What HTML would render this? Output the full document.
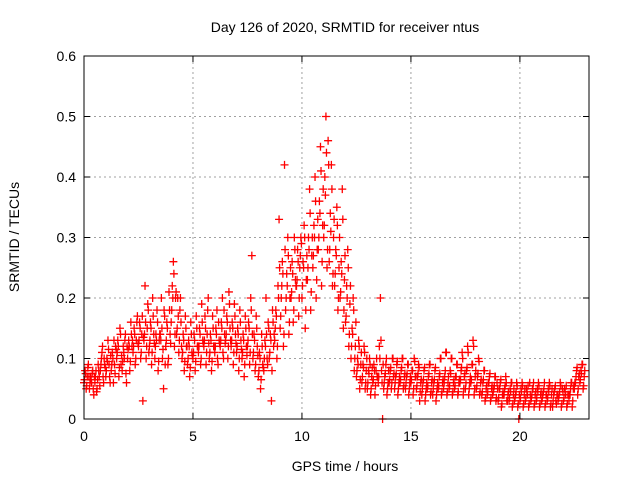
<!DOCTYPE html>
<html><head><meta charset="utf-8"><style>
body{margin:0;background:#fff;}
svg{display:block;font-family:"Liberation Sans",sans-serif;}
</style></head><body>
<svg id="chart" width="640" height="480">
<text x="345" y="32" text-anchor="middle" font-size="14">Day 126 of 2020, SRMTID for receiver ntus</text>
<text x="345" y="471" text-anchor="middle" font-size="14">GPS time / hours</text>
<text transform="translate(19,237) rotate(-90)" text-anchor="middle" font-size="14">SRMTID / TECUs</text>
<g id="grid"></g><g id="pts"></g><g id="axes"></g>
</svg>
<script>
const xTicks=[0,5,10,15,20];
const yTicks=[0,0.1,0.2,0.3,0.4,0.5,0.6];
const yTickLabels=["0","0.1","0.2","0.3","0.4","0.5","0.6"];
const binStarts=[0,0.25,0.5,0.75,1,1.25,1.5,1.75,2,2.25,2.5,2.75,3,3.25,3.5,3.75,4,4.25,4.5,4.75,5,5.25,5.5,5.75,6,6.25,6.5,6.75,7,7.25,7.5,7.75,8,8.25,8.5,8.75,9,9.25,9.5,9.75,10,10.25,10.5,10.75,11,11.25,11.5,11.75,12,12.25,12.5,12.75,13,13.25,13.5,13.75,14,14.25,14.5,14.75,15,15.25,15.5,15.75,16,16.25,16.5,16.75,17,17.25,17.5,17.75,18,18.25,18.5,18.75,19,19.25,19.5,19.75,20,20.25,20.5,20.75,21,21.25,21.5,21.75,22,22.25,22.5,22.75];
const binValues=[
[0.06,0.08,0.05,0.07,0.09],[0.05,0.07,0.06,0.08,0.04],[0.06,0.08,0.05,0.09,0.07],[0.08,0.1,0.12,0.06,0.09],
[0.07,0.1,0.13,0.09,0.06],[0.08,0.11,0.06,0.09,0.12],[0.1,0.13,0.07,0.15,0.09],[0.08,0.12,0.1,0.14,0.06],
[0.1,0.13,0.08,0.16,0.12],[0.11,0.15,0.09,0.13,0.17],[0.12,0.16,0.1,0.14,0.03],[0.13,0.22,0.1,0.15,0.18],
[0.12,0.16,0.09,0.2,0.14],[0.1,0.14,0.18,0.08,0.13],[0.14,0.2,0.1,0.05,0.17],[0.12,0.16,0.09,0.21,0.14],
[0.16,0.22,0.26,0.12,0.2],[0.14,0.2,0.11,0.18,0.16],[0.1,0.14,0.08,0.17,0.12],[0.09,0.13,0.07,0.16,0.11],
[0.1,0.14,0.08,0.17,0.12],[0.11,0.15,0.09,0.19,0.13],[0.12,0.17,0.09,0.14,0.2],[0.1,0.14,0.08,0.17,0.12],
[0.11,0.15,0.18,0.09,0.13],[0.12,0.16,0.2,0.1,0.14],[0.13,0.17,0.1,0.21,0.15],[0.12,0.16,0.09,0.19,0.14],
[0.11,0.15,0.08,0.18,0.13],[0.1,0.14,0.07,0.17,0.12],[0.12,0.16,0.09,0.2,0.27],[0.1,0.14,0.08,0.17,0.12],
[0.07,0.11,0.05,0.14,0.09],[0.08,0.13,0.2,0.1,0.16],[0.1,0.14,0.03,0.18,0.12],[0.13,0.18,0.1,0.22,0.33],
[0.15,0.2,0.26,0.12,0.42],[0.18,0.24,0.3,0.14,0.2],[0.2,0.26,0.16,0.3,0.23],[0.22,0.28,0.17,0.25,0.3],
[0.2,0.26,0.32,0.15,0.23],[0.23,0.3,0.38,0.18,0.27],[0.25,0.32,0.4,0.2,0.28],[0.28,0.36,0.45,0.22,0.32],
[0.3,0.4,0.5,0.25,0.46],[0.26,0.34,0.42,0.22,0.3],[0.22,0.28,0.35,0.18,0.25],[0.2,0.26,0.38,0.15,0.23],
[0.16,0.22,0.28,0.12,0.19],[0.1,0.15,0.2,0.08,0.12],[0.07,0.1,0.13,0.05,0.09],[0.06,0.09,0.12,0.05,0.08],
[0.05,0.08,0.1,0.04,0.07],[0.06,0.09,0.04,0.08,0.07],[0.06,0.12,0.2,0.08,0.0],[0.05,0.07,0.09,0.04,0.06],
[0.06,0.08,0.05,0.1,0.07],[0.05,0.07,0.09,0.04,0.06],[0.06,0.08,0.1,0.05,0.07],[0.05,0.07,0.09,0.04,0.06],
[0.06,0.08,0.04,0.1,0.07],[0.05,0.07,0.09,0.03,0.06],[0.04,0.06,0.08,0.03,0.05],[0.05,0.07,0.09,0.04,0.06],
[0.04,0.06,0.08,0.03,0.05],[0.05,0.07,0.1,0.04,0.06],[0.05,0.07,0.11,0.04,0.06],[0.05,0.08,0.1,0.04,0.06],
[0.05,0.07,0.09,0.04,0.06],[0.06,0.08,0.11,0.04,0.07],[0.05,0.08,0.12,0.04,0.06],[0.06,0.09,0.13,0.04,0.07],
[0.05,0.07,0.1,0.04,0.06],[0.04,0.06,0.08,0.03,0.05],[0.04,0.06,0.07,0.03,0.05],[0.04,0.05,0.07,0.03,0.06],
[0.03,0.05,0.06,0.02,0.04],[0.04,0.05,0.07,0.03,0.04],[0.03,0.05,0.06,0.02,0.04],[0.03,0.04,0.06,0.02,0.0],
[0.03,0.05,0.06,0.02,0.04],[0.03,0.05,0.04,0.02,0.06],[0.03,0.04,0.05,0.02,0.04],[0.03,0.05,0.06,0.02,0.04],
[0.03,0.04,0.05,0.02,0.04],[0.03,0.05,0.06,0.02,0.04],[0.02,0.04,0.05,0.03,0.04],[0.03,0.04,0.06,0.02,0.05],
[0.03,0.05,0.04,0.02,0.04],[0.03,0.04,0.06,0.02,0.05],[0.05,0.06,0.08,0.04,0.07],[0.06,0.08,0.09,0.05,0.07]
];
const binValues2=[
[0.065,0.075,0.055,0.085,0.07],[0.06,0.065,0.075,0.05,0.07],[0.07,0.045,0.065,0.08,0.055],[0.09,0.11,0.07,0.1,0.085],
[0.08,0.095,0.115,0.07,0.105],[0.09,0.1,0.13,0.075,0.115],[0.11,0.12,0.085,0.14,0.105],[0.095,0.11,0.13,0.075,0.12],
[0.115,0.12,0.095,0.14,0.13],[0.12,0.14,0.1,0.16,0.125],[0.13,0.15,0.11,0.17,0.135],[0.14,0.16,0.12,0.19,0.11],
[0.13,0.15,0.11,0.17,0.125],[0.12,0.13,0.16,0.095,0.14],[0.13,0.15,0.115,0.18,0.09],[0.13,0.15,0.1,0.18,0.125],
[0.18,0.2,0.24,0.14,0.21],[0.15,0.17,0.13,0.2,0.12],[0.11,0.13,0.095,0.15,0.12],[0.1,0.12,0.085,0.14,0.105],
[0.11,0.13,0.095,0.15,0.12],[0.12,0.14,0.1,0.16,0.125],[0.13,0.15,0.11,0.18,0.125],[0.11,0.13,0.095,0.15,0.12],
[0.12,0.14,0.1,0.16,0.125],[0.13,0.15,0.11,0.18,0.125],[0.14,0.16,0.12,0.19,0.13],[0.13,0.15,0.11,0.17,0.125],
[0.12,0.14,0.1,0.16,0.115],[0.11,0.13,0.09,0.15,0.105],[0.13,0.15,0.11,0.18,0.14],[0.11,0.13,0.09,0.15,0.105],
[0.08,0.1,0.065,0.12,0.085],[0.1,0.12,0.14,0.09,0.15],[0.11,0.13,0.08,0.16,0.14],[0.15,0.17,0.12,0.2,0.25],
[0.17,0.22,0.24,0.14,0.28],[0.2,0.22,0.27,0.16,0.25],[0.21,0.24,0.18,0.28,0.22],[0.23,0.26,0.2,0.27,0.29],
[0.22,0.25,0.3,0.18,0.27],[0.25,0.28,0.34,0.21,0.3],[0.27,0.3,0.36,0.23,0.33],[0.3,0.34,0.41,0.26,0.38],
[0.32,0.37,0.44,0.28,0.42],[0.28,0.31,0.38,0.24,0.33],[0.24,0.27,0.32,0.2,0.3],[0.21,0.24,0.33,0.18,0.27],
[0.17,0.2,0.25,0.14,0.22],[0.12,0.14,0.18,0.1,0.16],[0.08,0.09,0.12,0.065,0.11],[0.07,0.085,0.11,0.06,0.1],
[0.06,0.075,0.09,0.05,0.085],[0.065,0.08,0.055,0.1,0.07],[0.07,0.1,0.13,0.06,0.09],[0.06,0.075,0.1,0.05,0.08],
[0.065,0.085,0.06,0.1,0.075],[0.06,0.075,0.095,0.05,0.07],[0.065,0.085,0.1,0.055,0.075],[0.06,0.075,0.09,0.05,0.07],
[0.065,0.08,0.05,0.095,0.07],[0.055,0.075,0.085,0.045,0.065],[0.05,0.065,0.085,0.04,0.06],[0.055,0.075,0.09,0.045,0.065],
[0.05,0.065,0.085,0.04,0.06],[0.055,0.075,0.1,0.045,0.065],[0.06,0.08,0.11,0.045,0.07],[0.055,0.075,0.1,0.045,0.065],
[0.055,0.07,0.09,0.045,0.065],[0.065,0.085,0.1,0.05,0.075],[0.06,0.085,0.11,0.05,0.07],[0.065,0.09,0.12,0.05,0.08],
[0.055,0.075,0.095,0.045,0.065],[0.045,0.065,0.08,0.035,0.055],[0.045,0.06,0.075,0.035,0.055],[0.045,0.055,0.07,0.035,0.05],
[0.035,0.05,0.065,0.025,0.045],[0.04,0.055,0.06,0.03,0.045],[0.035,0.045,0.06,0.025,0.05],[0.035,0.045,0.055,0.025,0.04],
[0.035,0.045,0.055,0.025,0.05],[0.035,0.045,0.055,0.025,0.04],[0.035,0.05,0.06,0.025,0.045],[0.035,0.045,0.055,0.025,0.045],
[0.035,0.045,0.06,0.025,0.04],[0.035,0.045,0.055,0.025,0.05],[0.03,0.045,0.055,0.025,0.04],[0.035,0.045,0.055,0.025,0.045],
[0.035,0.045,0.055,0.025,0.04],[0.04,0.05,0.06,0.03,0.055],[0.06,0.07,0.085,0.05,0.075],[0.065,0.075,0.09,0.055,0.08]
];
const X0=84,X1=589,Y0=419,Y1=56,XMAX=23.17,YMAX=0.6;
const NS="http://www.w3.org/2000/svg";
function sx(t){return X0+(X1-X0)*t/XMAX;}
function sy(v){return Y0-(Y0-Y1)*v/YMAX;}
function mk(tag,attrs,parent){const e=document.createElementNS(NS,tag);for(const k in attrs)e.setAttribute(k,attrs[k]);parent.appendChild(e);return e;}
const grid=document.getElementById('grid'),axes=document.getElementById('axes'),pts=document.getElementById('pts');
yTicks.forEach((v,i)=>{
  if(v>0&&v<YMAX){const g=mk('line',{x1:X0,x2:X1,y1:sy(v),y2:sy(v),stroke:'#a0a0a0','stroke-dasharray':'2,3','stroke-width':1},grid);
  
  }
  const t=mk('text',{x:X0-8,y:sy(v)+5,'text-anchor':'end','font-size':14},axes);t.textContent=yTickLabels[i];
  
  
  mk('line',{x1:X0,x2:X0+6,y1:sy(v),y2:sy(v),stroke:'#000'},axes);
  mk('line',{x1:X1,x2:X1-6,y1:sy(v),y2:sy(v),stroke:'#000'},axes);
});
xTicks.forEach(v=>{
  if(v>0){const g=mk('line',{x1:sx(v),x2:sx(v),y1:Y0,y2:Y1,stroke:'#a0a0a0','stroke-dasharray':'2,3','stroke-width':1},grid);
  
  }
  const t=mk('text',{x:sx(v),y:Y0+22,'text-anchor':'middle','font-size':14},axes);t.textContent=String(v);
  
  
  mk('line',{x1:sx(v),x2:sx(v),y1:Y0,y2:Y0-6,stroke:'#000'},axes);
  mk('line',{x1:sx(v),x2:sx(v),y1:Y1,y2:Y1+6,stroke:'#000'},axes);
});
const box=mk('rect',{x:X0,y:Y1,width:X1-X0,height:Y0-Y1,fill:'none',stroke:'#000','stroke-width':1},axes);


function drawSet(vals,offset){
  binStarts.forEach((t0,b)=>{
    vals[b].forEach((v,i)=>{
      const x=sx(t0+offset+i*0.05),y=sy(v);
      const p=mk('path',{d:`M${x-4},${y}H${x+4}M${x},${y-4}V${y+4}`,stroke:'#ff0000','stroke-width':1.3,fill:'none'},pts);
      
      
    });
  });
}
drawSet(binValues,0);
drawSet(binValues2,0.025);
</script>
</body></html>
